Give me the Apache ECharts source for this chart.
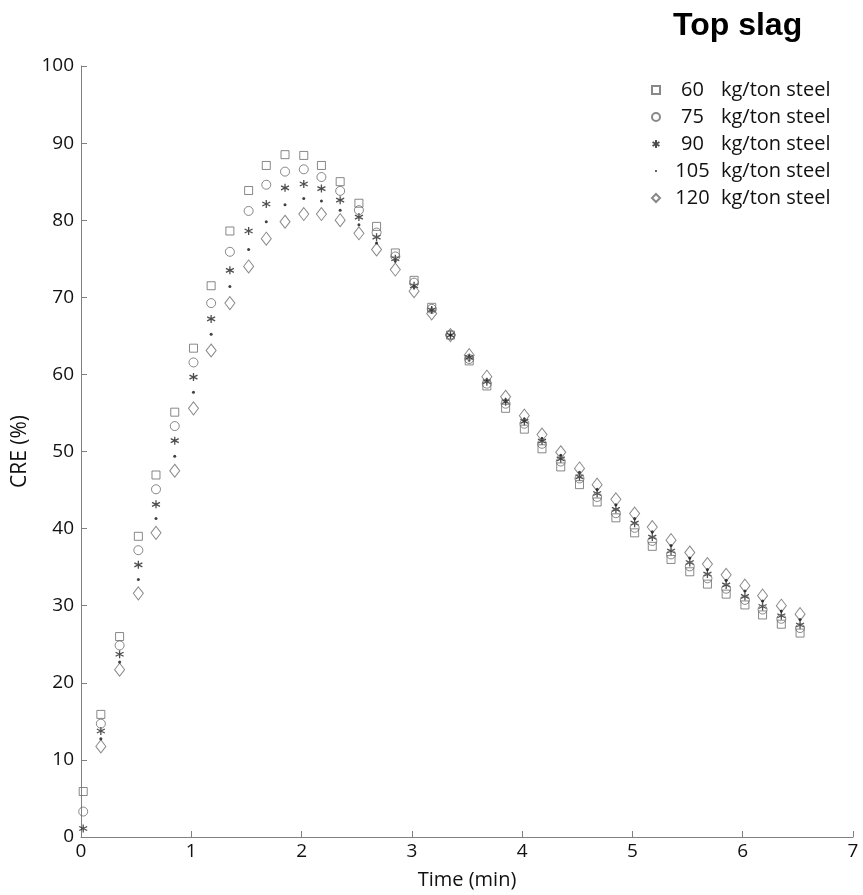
<!DOCTYPE html>
<html>
<head>
    <meta charset="utf-8">
    <title>Top slag CRE</title>
    <script src="https://cdn.jsdelivr.net/npm/echarts@6/dist/echarts.min.js"></script>
    <style type="text/css">
        html, body { margin: 0; padding: 0; background: #fff; }
        #chart { width: 863px; height: 895px; }
    </style>
</head>
<body>
<div id="chart"></div>
<script>
    // time (min)
    var times = [0.02, 0.18, 0.35, 0.52, 0.68, 0.85, 1.02, 1.18, 1.35, 1.52,
        1.68, 1.85, 2.02, 2.18, 2.35, 2.52, 2.68, 2.85, 3.02, 3.18,
        3.35, 3.52, 3.68, 3.85, 4.02, 4.18, 4.35, 4.52, 4.68, 4.85,
        5.02, 5.18, 5.35, 5.52, 5.68, 5.85, 6.02, 6.18, 6.35, 6.52];

    var names = ['60', '75', '90', '105', '120'];

    // CRE (%) for each slag amount
    var cre60 = [5.9, 15.9, 26.0, 39.0, 46.95, 55.1, 63.4, 71.5, 78.6, 83.85,
        87.1, 88.5, 88.4, 87.1, 85.0, 82.2, 79.2, 75.75, 72.2, 68.7,
        65.1, 61.75, 58.5, 55.6, 52.9, 50.35, 48.0, 45.7, 43.45, 41.4,
        39.45, 37.7, 36.0, 34.4, 32.8, 31.5, 30.1, 28.8, 27.6, 26.45];
    var cre75 = [3.3, 14.7, 24.85, 37.2, 45.1, 53.3, 61.55, 69.25, 75.9, 81.2,
        84.6, 86.3, 86.6, 85.6, 83.8, 81.3, 78.4, 75.3, 71.9, 68.5,
        65.1, 62.0, 58.8, 56.2, 53.6, 51.0, 48.7, 46.5, 44.1, 42.0,
        40.1, 38.4, 36.65, 35.1, 33.55, 32.2, 30.75, 29.5, 28.3, 27.1];
    var cre90 = [1.1, 13.75, 23.7, 35.3, 43.15, 51.4, 59.65, 67.2, 73.5, 78.6,
        82.1, 84.2, 84.7, 84.1, 82.6, 80.4, 77.8, 75.0, 71.5, 68.35,
        65.1, 62.2, 59.05, 56.45, 53.9, 51.35, 49.05, 46.7, 44.55, 42.5,
        40.7, 38.9, 37.1, 35.6, 34.1, 32.7, 31.2, 29.9, 28.7, 27.5];
    var cre105 = ['-', 12.75, 22.7, 33.4, 41.3, 49.4, 57.7, 65.2, 71.4, 76.2,
        79.8, 82.0, 82.8, 82.5, 81.3, 79.4, 77.05, 74.7, 71.3, 68.2,
        65.1, 62.35, 59.3, 56.7, 54.2, 51.7, 49.5, 47.3, 45.1, 43.1,
        41.3, 39.6, 37.8, 36.2, 34.7, 33.3, 31.9, 30.6, 29.3, 28.2];
    var cre120 = ['-', 11.75, 21.7, 31.6, 39.45, 47.5, 55.6, 63.1, 69.25, 74.0,
        77.6, 79.8, 80.8, 80.8, 80.0, 78.3, 76.2, 73.6, 70.8, 67.9,
        65.1, 62.5, 59.7, 57.1, 54.65, 52.2, 49.9, 47.8, 45.7, 43.8,
        41.95, 40.2, 38.5, 36.9, 35.4, 34.0, 32.6, 31.3, 30.0, 28.9];

    var xTicks = [0, 1, 2, 3, 4, 5, 6, 7];
    var yTicks = [0, 10, 20, 30, 40, 50, 60, 70, 80, 90, 100];

    var allValues = [cre60, cre75, cre90, cre105, cre120];

    var asterisk = 'path://M5,0L5,10M0.67,2.5L9.33,7.5M0.67,7.5L9.33,2.5';
    // small dot inside a bigger empty box, so the legend keeps it small
    var legendDot = 'path://M0,0M10,10M3.6,5a1.4,1.4 0 1,0 2.8,0a1.4,1.4 0 1,0 -2.8,0';
    var markers = [
        {symbol: 'rect', size: 8, legend: 'rect', color: 'rgba(0,0,0,0)', border: '#6a6a6a', bw: 1},
        {symbol: 'circle', size: 9, legend: 'circle', color: 'rgba(0,0,0,0)', border: '#6a6a6a', bw: 1},
        {symbol: asterisk, size: 8, legend: asterisk, color: 'rgba(0,0,0,0)', border: '#222', bw: 1.3},
        {symbol: 'circle', size: 3, legend: legendDot, color: '#111', border: '#111', bw: 0},
        {symbol: 'diamond', size: [10, 13], legend: 'diamond', color: 'rgba(0,0,0,0)', border: '#6a6a6a', bw: 1}
    ];

    var font = 'Open Sans';

    var series = [];
    var legendData = [];
    for (var i = 0; i < names.length; i++) {
        var pts = [];
        for (var j = 0; j < times.length; j++) {
            pts.push([times[j], allValues[i][j]]);
        }
        series.push({
            name: names[i] + ' kg/ton steel',
            type: 'scatter',
            data: pts,
            symbol: markers[i].symbol,
            symbolSize: markers[i].size,
            itemStyle: {
                color: markers[i].color,
                borderColor: markers[i].border,
                borderWidth: markers[i].bw
            },
            emphasis: {disabled: true},
            z: 10 - i
        });
        legendData.push({name: names[i] + ' kg/ton steel', icon: markers[i].legend});
    }

    var myChart = echarts.init(document.getElementById('chart'));

    var option = {
        backgroundColor: '#fff',
        animation: false,
        title: {
            text: 'Top slag',
            left: 673,
            top: 10,
            padding: 0,
            textStyle: {
                fontFamily: 'Liberation Sans',
                fontWeight: 'bold',
                fontSize: 32,
                color: '#000'
            }
        },
        legend: {
            orient: 'vertical',
            left: 646,
            top: 75,
            itemWidth: 8,
            itemHeight: 8,
            itemGap: 7,
            data: legendData,
            formatter: function (name) {
                var parts = name.split(' ');
                return '{n|' + parts[0] + '}{u|' + parts.slice(1).join(' ') + '}';
            },
            textStyle: {
                fontFamily: font,
                fontSize: 20,
                color: '#111',
                rich: {
                    n: {width: 55, align: 'right', fontFamily: font, fontSize: 20, height: 20, color: '#111'},
                    u: {padding: [0, 0, 0, 1], fontFamily: font, fontSize: 20, height: 20, color: '#111'}
                }
            }
        },
        grid: {
            left: 81,
            right: 10,
            top: 66,
            bottom: 55,
            containLabel: false
        },
        xAxis: {
            type: 'value',
            min: xTicks[0],
            max: xTicks[xTicks.length - 1],
            interval: 1,
            name: 'Time (min)',
            nameLocation: 'middle',
            nameGap: 33,
            nameTextStyle: {fontFamily: font, fontSize: 20, color: '#111'},
            axisLine: {lineStyle: {color: '#808080', width: 1}},
            axisTick: {inside: true, length: 6, lineStyle: {color: '#808080'}},
            axisLabel: {fontFamily: font, fontSize: 19, color: '#111', margin: 5},
            splitLine: {show: false}
        },
        yAxis: {
            type: 'value',
            min: yTicks[0],
            max: yTicks[yTicks.length - 1],
            interval: 10,
            name: 'CRE (%)',
            nameLocation: 'middle',
            nameGap: 45,
            nameTextStyle: {fontFamily: font, fontSize: 21, color: '#111'},
            axisLine: {show: true, lineStyle: {color: '#808080', width: 1}},
            axisTick: {show: true, inside: true, length: 6, lineStyle: {color: '#808080'}},
            axisLabel: {fontFamily: font, fontSize: 19, color: '#111', margin: 7},
            splitLine: {show: false}
        },
        series: series
    };

    myChart.setOption(option);
</script>
</body>
</html>
